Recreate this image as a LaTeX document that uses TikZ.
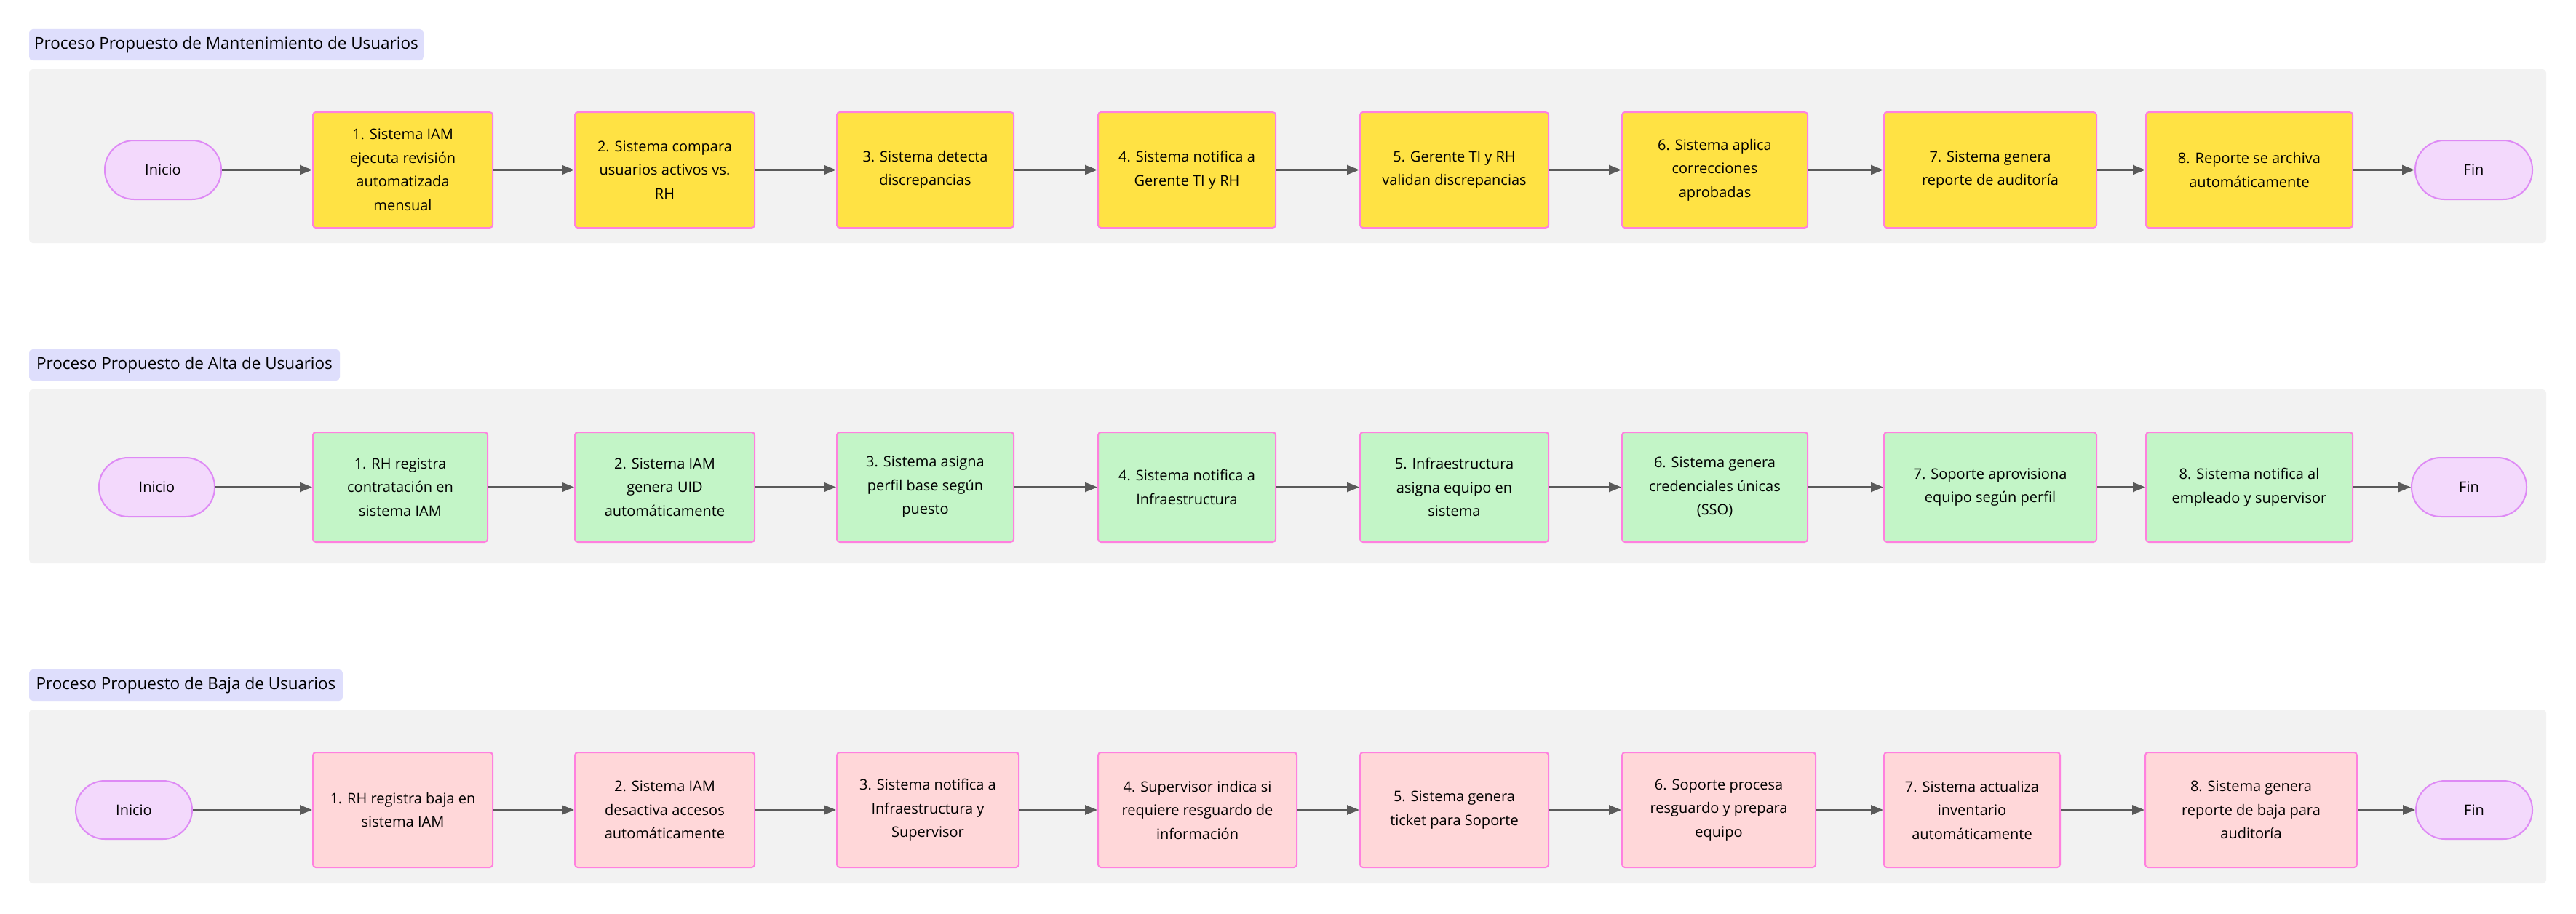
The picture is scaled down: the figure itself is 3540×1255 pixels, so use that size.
\documentclass[tikz,border=0pt]{standalone}
\usepackage{fontspec}
\setmainfont{Open Sans}
\usetikzlibrary{arrows.meta}
\definecolor{panelgray}{HTML}{F2F2F2}
\definecolor{titlefill}{HTML}{DEDEFC}
\definecolor{pinkstroke}{HTML}{FF80DF}
\definecolor{yelfill}{HTML}{FFE244}
\definecolor{grnfill}{HTML}{C3F5C7}
\definecolor{redfill}{HTML}{FFD7D9}
\definecolor{termfill}{HTML}{F3D9FC}
\definecolor{termstroke}{HTML}{DE8AF5}
\definecolor{arrgray}{HTML}{5A5A5A}
\newcommand\placenode[7]{\node[#2, minimum width={#4-#3}, minimum height={#6-#5}] (#1) at ({(#3+#4)/2},{(#5+#6)/2}) {#7};}
\begin{document}
\begin{tikzpicture}[x=1pt,y=-1pt,
  panel/.style={fill=panelgray, draw=none, rounded corners=5pt, inner sep=0pt},
  titlebox/.style={fill=titlefill, draw=none, rounded corners=5pt, inner sep=0pt, font=\fontsize{22.5}{26}\selectfont},
  stepbox/.style={draw=pinkstroke, line width=2pt, rounded corners=4pt, inner sep=0pt, align=center, font=\fontsize{20}{32.5}\selectfont},
  yel/.style={stepbox, fill=yelfill},
  grn/.style={stepbox, fill=grnfill},
  red/.style={stepbox, fill=redfill},
  term/.style={draw=termstroke, fill=termfill, line width=2pt, rounded corners=40pt, inner sep=0pt, font=\fontsize{20}{24}\selectfont},
  arr/.style={draw=arrgray, line width=2.5pt, -{Triangle[length=17pt,width=13pt]}}
]
\useasboundingbox[fill=white] (0,0) rectangle (3540,1255);

% ---------- Row 1: Mantenimiento ----------
\placenode{t1}{titlebox}{40}{582}{40}{83}{Proceso Propuesto de Mantenimiento de Usuarios}
\placenode{p1}{panel}{40}{3499}{95}{334}{}
\placenode{s1}{term}{144}{304}{193}{274}{Inicio}
\placenode{a1}{yel}{430}{677}{154}{313}{1. Sistema IAM\\ejecuta revisión\\automatizada\\mensual}
\placenode{a2}{yel}{790}{1037}{154}{313}{2. Sistema compara\\usuarios activos vs.\\RH}
\placenode{a3}{yel}{1150}{1393}{154}{313}{3. Sistema detecta\\discrepancias}
\placenode{a4}{yel}{1509}{1753}{154}{313}{4. Sistema notifica a\\Gerente TI y RH}
\placenode{a5}{yel}{1869}{2128}{154}{313}{5. Gerente TI y RH\\validan discrepancias}
\placenode{a6}{yel}{2229}{2484}{154}{313}{6. Sistema aplica\\correcciones\\aprobadas}
\placenode{a7}{yel}{2589}{2881}{154}{313}{7. Sistema genera\\reporte de auditoría}
\placenode{a8}{yel}{2949}{3233}{154}{313}{8. Reporte se archiva\\automáticamente}
\placenode{f1}{term}{3319}{3480}{193}{274}{Fin}
\draw[arr] (s1) -- (a1);
\draw[arr] (a1) -- (a2);
\draw[arr] (a2) -- (a3);
\draw[arr] (a3) -- (a4);
\draw[arr] (a4) -- (a5);
\draw[arr] (a5) -- (a6);
\draw[arr] (a6) -- (a7);
\draw[arr] (a7) -- (a8);
\draw[arr] (a8) -- (f1);

% ---------- Row 2: Alta ----------
\placenode{t2}{titlebox}{40}{467}{480}{523}{Proceso Propuesto de Alta de Usuarios}
\placenode{p2}{panel}{40}{3499}{535}{774}{}
\placenode{s2}{term}{136}{295}{629}{710}{Inicio}
\placenode{b1}{grn}{430}{670}{594}{745}{1. RH registra\\contratación en\\sistema IAM}
\placenode{b2}{grn}{790}{1037}{594}{745}{2. Sistema IAM\\genera UID\\automáticamente}
\placenode{b3}{grn}{1150}{1393}{594}{745}{3. Sistema asigna\\perfil base según\\puesto}
\placenode{b4}{grn}{1509}{1753}{594}{745}{4. Sistema notifica a\\Infraestructura}
\placenode{b5}{grn}{1869}{2128}{594}{745}{5. Infraestructura\\asigna equipo en\\sistema}
\placenode{b6}{grn}{2229}{2484}{594}{745}{6. Sistema genera\\credenciales únicas\\(SSO)}
\placenode{b7}{grn}{2589}{2881}{594}{745}{7. Soporte aprovisiona\\equipo según perfil}
\placenode{b8}{grn}{2949}{3233}{594}{745}{8. Sistema notifica al\\empleado y supervisor}
\placenode{f2}{term}{3314}{3472}{629}{710}{Fin}
\draw[arr] (s2) -- (b1);
\draw[arr] (b1) -- (b2);
\draw[arr] (b2) -- (b3);
\draw[arr] (b3) -- (b4);
\draw[arr] (b4) -- (b5);
\draw[arr] (b5) -- (b6);
\draw[arr] (b6) -- (b7);
\draw[arr] (b7) -- (b8);
\draw[arr] (b8) -- (f2);

% ---------- Row 3: Baja ----------
\placenode{t3}{titlebox}{40}{471}{920}{963}{Proceso Propuesto de Baja de Usuarios}
\placenode{p3}{panel}{40}{3499}{975}{1214}{}
\placenode{s3}{term}{104}{264}{1073}{1153}{Inicio}
\placenode{c1}{red}{430}{677}{1034}{1192}{1. RH registra baja en\\sistema IAM}
\placenode{c2}{red}{790}{1037}{1034}{1192}{2. Sistema IAM\\desactiva accesos\\automáticamente}
\placenode{c3}{red}{1150}{1400}{1034}{1192}{3. Sistema notifica a\\Infraestructura y\\Supervisor}
\placenode{c4}{red}{1509}{1782}{1034}{1192}{4. Supervisor indica si\\requiere resguardo de\\información}
\placenode{c5}{red}{1869}{2128}{1034}{1192}{5. Sistema genera\\ticket para Soporte}
\placenode{c6}{red}{2229}{2495}{1034}{1192}{6. Soporte procesa\\resguardo y prepara\\equipo}
\placenode{c7}{red}{2589}{2831}{1034}{1192}{7. Sistema actualiza\\inventario\\automáticamente}
\placenode{c8}{red}{2948}{3239}{1034}{1192}{8. Sistema genera\\reporte de baja para\\auditoría}
\placenode{f3}{term}{3320}{3480}{1073}{1153}{Fin}
\draw[arr] (s3) -- (c1);
\draw[arr] (c1) -- (c2);
\draw[arr] (c2) -- (c3);
\draw[arr] (c3) -- (c4);
\draw[arr] (c4) -- (c5);
\draw[arr] (c5) -- (c6);
\draw[arr] (c6) -- (c7);
\draw[arr] (c7) -- (c8);
\draw[arr] (c8) -- (f3);
\end{tikzpicture}
\end{document}
